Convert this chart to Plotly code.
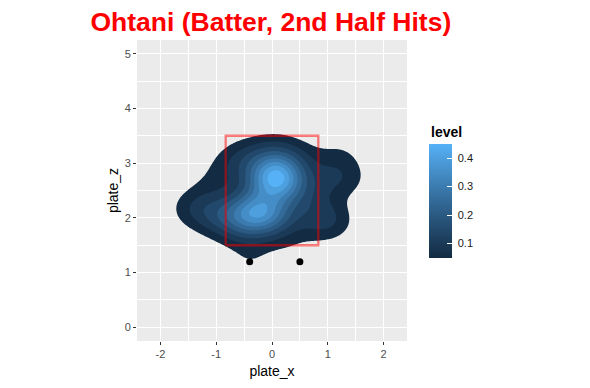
import numpy as np
import plotly.graph_objects as go

# ---------------- data ----------------
title_text = "Ohtani (Batter, 2nd Half Hits)"
x_label = "plate_x"
z_label = "plate_z"
legend_title = "level"

hit_x = [0.08, 0.00, 0.17, 0.05, 0.14, -0.08, 0.22, 0.02, 0.10, -0.12, 0.20, 0.06, 0.10,
         -0.25, -0.40, -0.10, -0.32, -0.50, -0.05, -0.38, -0.18, 0.02, -0.58, -0.22,
         0.25, -0.30, 0.45,
         -1.45, -1.30, -1.15, -1.05, -0.85, -0.75, -0.90, -0.55,
         -0.35, 0.25, -0.05, 0.55,
         1.22, 1.35, 1.15, 0.90, 0.70, 1.00, 1.05, 0.85,
         0.30, 0.00, -0.42, -0.70,
         -0.40, 0.50]
hit_z = [2.76, 2.68, 2.84, 2.90, 2.64, 2.82, 2.72, 2.60, 2.97, 2.72, 2.56, 2.80, 2.74,
         2.10, 2.08, 2.12, 2.16, 2.10, 2.06, 2.02, 2.04, 2.12, 2.06, 2.18,
         2.35, 2.50, 2.55,
         2.15, 2.25, 2.05, 2.65, 2.15, 2.95, 1.95, 3.10,
         3.10, 3.20, 3.25, 3.05,
         3.15, 2.70, 2.80, 2.60, 2.25, 2.00, 1.90, 1.95,
         1.90, 1.80, 1.70, 1.85,
         1.20, 1.20]

zone_x = [-0.83, 0.83, 0.83, -0.83, -0.83]
zone_z = [1.5, 1.5, 3.5, 3.5, 1.5]

levels = [0.05, 0.10, 0.15, 0.20, 0.25, 0.30, 0.35, 0.40, 0.45]
legend_ticks = [0.1, 0.2, 0.3, 0.4]
x_ticks = [-2, -1, 0, 1, 2]
z_ticks = [0, 1, 2, 3, 4, 5]

# kernel bandwidth (sd of gaussian kernel in each direction)
bw_x, bw_z = 0.32, 0.26

# ---------------- density ----------------
hx = np.array(hit_x)
hz = np.array(hit_z)
xg = np.linspace(-2.42, 2.42, 241)
zg = np.linspace(-0.25, 5.25, 276)


def kde(px, pz):
    gx = np.exp(-0.5 * ((np.asarray(px)[..., None] - hx) / bw_x) ** 2)
    gz = np.exp(-0.5 * ((np.asarray(pz)[..., None] - hz) / bw_z) ** 2)
    return (gx * gz).sum(-1) / (len(hx) * 2 * np.pi * bw_x * bw_z)


XX, ZZ = np.meshgrid(xg, zg)
dens = kde(XX, ZZ)

# ---------------- colours (ggplot default gradient, Lab interpolation) ----------------
WHITE = (0.95047, 1.0, 1.08883)


def hex_to_lab(h):
    rgb = [int(h[i:i + 2], 16) / 255 for i in (1, 3, 5)]
    lin = [c / 12.92 if c <= 0.04045 else ((c + 0.055) / 1.055) ** 2.4 for c in rgb]
    r, g, b = lin
    X = 0.4124564 * r + 0.3575761 * g + 0.1804375 * b
    Y = 0.2126729 * r + 0.7151522 * g + 0.0721750 * b
    Z = 0.0193339 * r + 0.1191920 * g + 0.9503041 * b

    def f(t):
        return t ** (1 / 3) if t > (6 / 29) ** 3 else t / (3 * (6 / 29) ** 2) + 4 / 29
    fx, fy, fz = f(X / WHITE[0]), f(Y / WHITE[1]), f(Z / WHITE[2])
    return (116 * fy - 16, 500 * (fx - fy), 200 * (fy - fz))


def lab_to_rgb(L, a, b):
    fy = (L + 16) / 116
    fx = fy + a / 500
    fz = fy - b / 200

    def finv(t):
        return t ** 3 if t > 6 / 29 else 3 * (6 / 29) ** 2 * (t - 4 / 29)
    X, Y, Z = WHITE[0] * finv(fx), WHITE[1] * finv(fy), WHITE[2] * finv(fz)
    r = 3.2404542 * X - 1.5371385 * Y - 0.4985314 * Z
    g = -0.9692660 * X + 1.8760108 * Y + 0.0415560 * Z
    bb = 0.0556434 * X - 0.2040259 * Y + 1.0572252 * Z

    def gam(c):
        c = min(max(c, 0.0), 1.0)
        return 12.92 * c if c <= 0.0031308 else 1.055 * c ** (1 / 2.4) - 0.055
    return "rgb(%d,%d,%d)" % tuple(round(255 * gam(c)) for c in (r, g, bb))


LOW, HIGH = hex_to_lab("#132B43"), hex_to_lab("#56B1F7")


def gg(t):
    return lab_to_rgb(*[LOW[i] + t * (HIGH[i] - LOW[i]) for i in range(3)])


nlev = len(levels)
lo, hi = levels[0], levels[-1]
# contour fill colorscale: band above level k gets position (k+1)/nlev
fill_scale = [[0.0, "rgba(0,0,0,0)"], [0.5 / nlev, "rgba(0,0,0,0)"]]
for k, lv in enumerate(levels):
    fill_scale.append([(k + 1) / nlev, gg((lv - lo) / (hi - lo))])

bar_scale = [[i / 20, gg(i / 20)] for i in range(21)]

# ---------------- figure ----------------
FONT = "Liberation Sans, Arial, Helvetica, sans-serif"
fig = go.Figure()

fig.add_trace(go.Contour(
    x=xg, y=zg, z=dens,
    autocontour=False,
    contours=dict(start=levels[0], end=levels[-1], size=levels[1] - levels[0],
                  coloring="fill", showlines=False),
    line=dict(width=0, smoothing=1),
    colorscale=fill_scale, showscale=False, hoverinfo="skip",
))

# hits not covered by the filled density
own = kde(hx, hz)
vis = own < levels[0]
fig.add_trace(go.Scatter(
    x=hx[vis], y=hz[vis], mode="markers",
    marker=dict(color="black", size=7), hoverinfo="skip", showlegend=False,
))

# strike zone
fig.add_trace(go.Scatter(
    x=zone_x, y=zone_z, mode="lines",
    line=dict(color="rgba(255,0,0,0.5)", width=2.3),
    hoverinfo="skip", showlegend=False,
))

# legend colourbar
fig.add_trace(go.Scatter(
    x=[None, None], y=[None, None], mode="markers", showlegend=False,
    marker=dict(color=[lo, hi], cmin=lo, cmax=hi, colorscale=bar_scale,
                showscale=True,
                colorbar=dict(x=(429 - 137) / 270, xanchor="left", xpad=0,
                              y=(345 - 203) / 305, yanchor="middle", ypad=0,
                              len=114, lenmode="pixels", thickness=23,
                              outlinewidth=0, tickvals=legend_ticks,
                              ticktext=["\u00a0" + str(t) for t in legend_ticks],
                              ticks="inside", ticklen=5, tickcolor="white",
                              tickwidth=1,
                              tickfont=dict(family=FONT, size=11, color="#1a1a1a"))),
))

axis_common = dict(
    showgrid=True, gridcolor="white", gridwidth=1.1,
    zeroline=False, showline=False,
    ticks="outside", ticklen=3, tickwidth=1, tickcolor="#333333",
    tickfont=dict(family=FONT, size=11, color="#4D4D4D"),
    minor=dict(dtick=0.5, tick0=0, showgrid=True, gridcolor="white",
               gridwidth=0.55, ticks=""),
    fixedrange=True,
)

# page body has an 8px margin, so the figure is laid out 8px smaller
fig.update_layout(
    width=582, height=380,
    margin=dict(l=129, r=183, t=32, b=43),
    paper_bgcolor="white", plot_bgcolor="#EBEBEB",
    font=dict(family=FONT, color="black"),
    title=dict(text="<b>" + title_text + "</b>", x=(90.5 - 8) / 582, xanchor="left",
               xref="container", y=1 - 4 / 380, yanchor="top", yref="container",
               pad=dict(t=0, b=0, l=0, r=0),
               font=dict(family=FONT, size=26.5, color="red")),
    xaxis=dict(range=[-2.42, 2.42], tickvals=x_ticks,
               ticktext=[str(t) for t in x_ticks],
               title=dict(text=x_label, font=dict(size=14, color="black"), standoff=6),
               **axis_common),
    yaxis=dict(range=[-0.25, 5.25], tickvals=z_ticks,
               ticktext=[str(t) for t in z_ticks],
               title=dict(text=z_label, font=dict(size=14, color="black"), standoff=2),
               **axis_common),
    showlegend=False,
    annotations=[dict(text="<b>" + legend_title + "</b>", xref="paper", yref="paper",
                      x=(429 - 137) / 270, y=(345 - 133) / 305, xanchor="left",
                      yanchor="middle", showarrow=False,
                      font=dict(family=FONT, size=14, color="black"))],
)

fig.write_html("out.html")
